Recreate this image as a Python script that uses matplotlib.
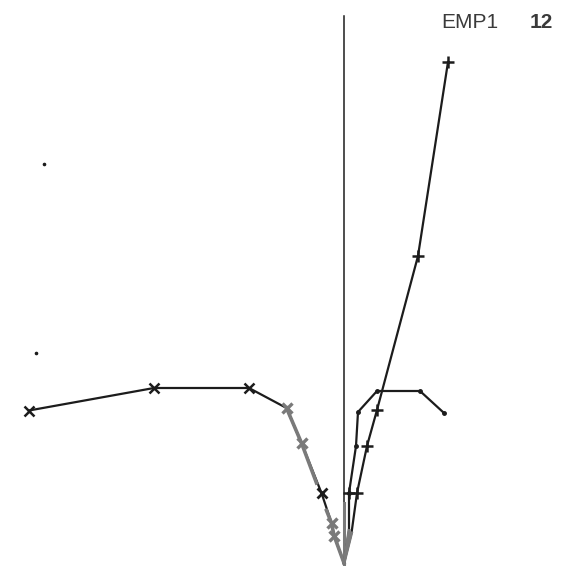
import matplotlib
matplotlib.use("Agg")
import matplotlib.pyplot as plt
import numpy as np

# left branch (black, x markers)
left_x = [-12.6, -7.6, -3.8, -2.3, -1.7, -0.9, -0.5, -0.4, 0.0]
left_y = [6.1, 7.0, 7.0, 6.2, 4.8, 2.8, 1.6, 1.1, 0.0]

# grey overlay on the left branch (nan = gap)
grey_x = [-2.3, -1.7, -1.1, np.nan, -0.7, -0.5, -0.4, 0.0]
grey_y = [6.2, 4.8, 3.2, np.nan, 2.1, 1.6, 1.1, 0.0]

# right branch A (small dots, flattens out)
ra_x = [0.0, 0.2, 0.2, 0.48, 0.56, 1.32, 3.04, 4.0]
ra_y = [0.0, 1.3, 2.8, 4.68, 6.04, 6.88, 6.88, 6.0]

# right branch B (steep, + markers)
rb_x = [0.0, 0.3, 0.52, 0.92, 1.32, 2.96, 4.16]
rb_y = [0.0, 1.2, 2.8, 4.68, 6.12, 12.28, 20.04]

# stray points on the left
dot_x = [-12.0, -12.32]
dot_y = [15.96, 8.4]

axis_top = 21.9
axis_grey_top = 2.4

dark = "#1c1c1c"
grey = "#7a7a7a"

fig = plt.figure(figsize=(5.65, 5.66), dpi=100)
ax = fig.add_axes([0, 0, 1, 1])

# central vertical line
ax.plot([0, 0], [0, axis_top], color=dark, lw=1.1)
ax.plot([0, 0], [-0.2, axis_grey_top], color=grey, lw=2.2)

ax.plot(left_x, left_y, color=dark, lw=1.6)
ax.plot(left_x[:3], left_y[:3], ls="none", marker="x", ms=6.5, mew=1.8, color=dark)
ax.plot(left_x[5:6], left_y[5:6], ls="none", marker="x", ms=7, mew=2, color=dark)
ax.plot(grey_x, grey_y, color=grey, lw=2.6)
ax.plot([-2.3, -1.7, -0.5, -0.4], [6.2, 4.8, 1.6, 1.1], ls="none",
        marker="x", ms=7, mew=2.4, color=grey)

ax.plot(ra_x, ra_y, color=dark, lw=1.6)
ax.plot(ra_x[2:], ra_y[2:], ls="none", marker="o", ms=2.5, color=dark)
ax.plot(rb_x, rb_y, color=dark, lw=1.6)
ax.plot(rb_x[2:], rb_y[2:], ls="none", marker="+", ms=8, mew=1.8, color=dark)
ax.plot([0.2], [2.8], ls="none", marker="+", ms=8, mew=1.8, color=dark)
ax.plot([0, 0.3], [0, 1.2], color=grey, lw=2.2)
ax.plot([0, 0.2], [0, 1.3], color=grey, lw=2.2)

ax.plot(dot_x, dot_y, ls="none", marker="o", ms=1.6, color=dark)

ax.set_xlim(-13.76, 8.84)
ax.set_ylim(-0.12, 22.52)
ax.axis("off")

fig.text(441 / 565, 1 - 22 / 566, "EMP1", fontsize=15, color="#3a3a3a",
         family="Liberation Sans", ha="left", va="center")
fig.text(530 / 565, 1 - 22 / 566, "12", fontsize=15, color="#3a3a3a",
         family="Liberation Sans", fontweight="bold", ha="left", va="center")

fig.savefig("out.png", dpi=100)
